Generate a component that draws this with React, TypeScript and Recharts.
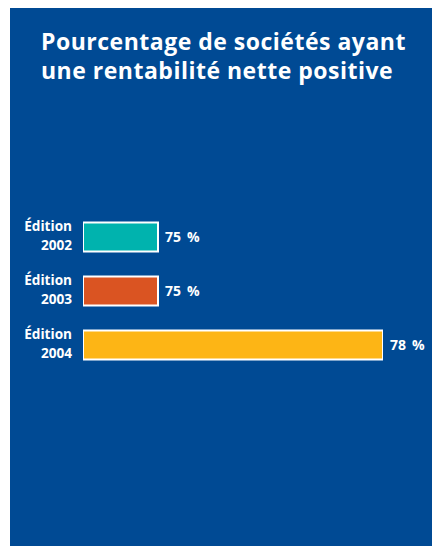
import React from 'react';
import { BarChart, Bar, XAxis, YAxis, Cell, LabelList } from 'recharts';

const titleLines = ['Pourcentage de sociétés ayant', 'une rentabilité nette positive'];
const editionWord = 'Édition';
const years = ['2002', '2003', '2004'];
const values = [75, 75, 78];
const barColors = ['#00B3AE', '#DA5422', '#FDB515'];
const xDomain: [number, number] = [74, 78];

const data = years.map((y, i) => ({ year: y, value: values[i] }));

const FONT = '"Open Sans", "Noto Sans", sans-serif';
const BG = '#004A94';

const YearTick = (props: any) => {
  const { x, y, payload } = props;
  return (
    <g>
      <text x={x} y={y} dy={-5.4} textAnchor="end" fill="#ffffff" fontSize={13.6} fontWeight={700} fontFamily={FONT}>
        {editionWord}
      </text>
      <text x={x} y={y} dy={13.2} textAnchor="end" fill="#ffffff" fontSize={13.6} fontWeight={700} fontFamily={FONT}>
        {payload.value}
      </text>
    </g>
  );
};

export default function App() {
  return (
    <div
      style={{
        position: 'fixed',
        left: 10,
        top: 8,
        width: 422,
        height: 538,
        background: BG,
        overflow: 'hidden',
      }}
    >
      <div
        style={{
          position: 'absolute',
          left: 31,
          top: 19,
          color: '#ffffff',
          fontFamily: FONT,
          fontWeight: 700,
          fontSize: 23,
          letterSpacing: 0.5,
          lineHeight: '29px',
          whiteSpace: 'nowrap',
        }}
      >
        {titleLines.map((t, i) => (
          <div key={i}>{t}</div>
        ))}
      </div>
      <BarChart
        width={422}
        height={538}
        data={data}
        layout="vertical"
        margin={{ top: 201.5, right: 49, bottom: 174.5, left: 0 }}
        style={{ position: 'absolute', left: 0, top: 0 }}
      >
        <XAxis type="number" domain={xDomain} allowDataOverflow hide />
        <YAxis
          type="category"
          dataKey="year"
          width={73}
          axisLine={false}
          tickLine={false}
          tickSize={0}
          tickMargin={11}
          tick={<YearTick />}
          interval={0}
        />
        <Bar dataKey="value" barSize={29} stroke="#ffffff" strokeWidth={2} isAnimationActive={false}>
          {data.map((d, i) => (
            <Cell key={d.year} fill={barColors[i]} />
          ))}
          <LabelList
            dataKey="value"
            position="right"
            offset={7}
            fill="#ffffff"
            fontSize={14}
            fontWeight={700}
            fontFamily={FONT}
            formatter={(v: any) => `${v}\u00A0\u2009%`}
          />
        </Bar>
      </BarChart>
    </div>
  );
}
